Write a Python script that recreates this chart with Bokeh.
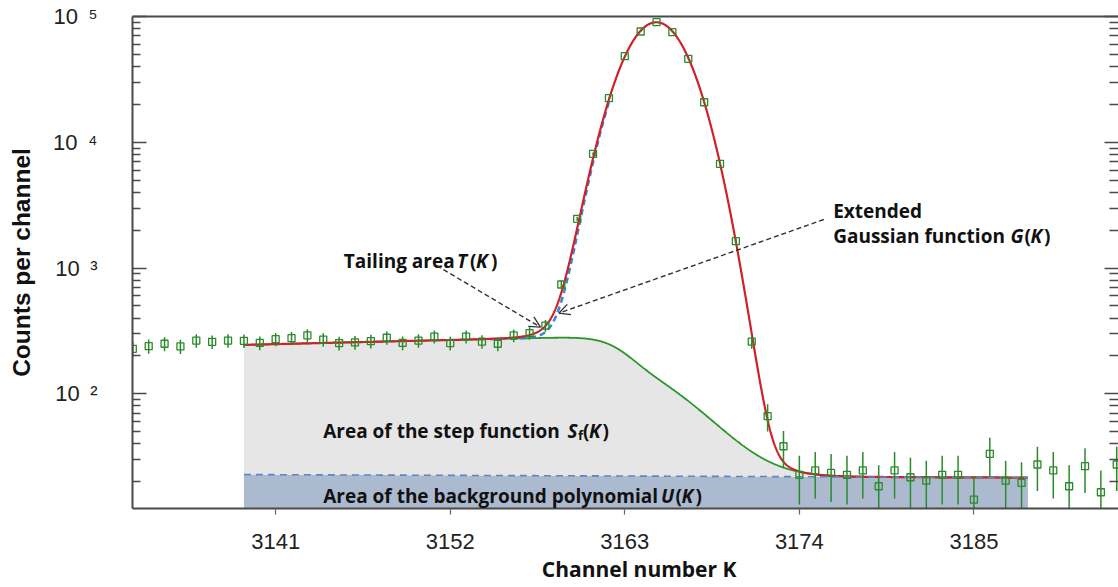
import math
import numpy as np
from bokeh.plotting import figure
from bokeh.models import (Range1d, LogAxis, LinearAxis, FixedTicker, Label, Arrow,
                          OpenHead, CustomJSTickFormatter)
from bokeh.embed import file_html
from bokeh.resources import INLINE

# ---------------- data ----------------
channels = list(range(3132, 3195))
counts = [228, 239, 250, 238, 265, 259, 265, 264, 254, 272,
          277, 292, 270, 253, 256, 262, 279, 254, 265, 285,
          253, 285, 260, 250, 291, 304, 349, 740, 2463, 8095,
          22400, 48350, 76000, 90100, 75000, 46100, 20800, 6740, 1634, 260,
          66.4, 38.3, 22.7, 24.6, 23.5, 22.7, 24.6, 18.4, 24.6, 21.7,
          20.4, 22.7, 22.7, 14.4, 33.3, 20.4, 19.6, 27.4, 24.6, 18.4,
          26.6, 16.5, 27.4]
count_err = [30.2, 30.9, 31.6, 30.9, 32.6, 32.2, 32.6, 32.5, 31.9, 33.0,
             33.3, 34.2, 32.9, 31.8, 32.0, 32.4, 33.4, 31.9, 32.6, 33.8,
             31.8, 33.8, 32.2, 31.6, 34.1, 34.9, 37.4, 54.4, 99, 180,
             299, 440, 551, 600, 548, 429, 288, 164, 81, 32.2,
             16.3, 12.4, 9.5, 9.9, 9.7, 9.5, 9.9, 8.6, 9.9, 9.3,
             9.0, 9.5, 9.5, 7.6, 11.5, 9.0, 8.9, 10.5, 9.9, 8.6,
             10.3, 8.1, 10.5]
x_ticks = [3141, 3152, 3163, 3174, 3185]
y_ticks = [1e2, 1e3, 1e4, 1e5]
y_minor = [m * 10 ** e for e in range(1, 5) for m in range(2, 10)]
x_title = "\u00a0" * 5 + "Channel number K"
y_title = "Counts per channel"

# fitted model parameters
FIT_START, FIT_END = 3139.0, 3188.4
BG0, BG1 = 22.8, -0.025            # background polynomial U(K)
STEP0, STEP1 = 222.0, 1.8          # step plateau
STEP_C, STEP_W1, STEP_W2 = 3164.3, 2.8, 5.6
G_AMP, G_MU, G_SIG = 88300.0, 3165.0, 1.76   # Gaussian G(K)
T_AMP, T_BETA = 40000.0, 1.0       # tailing T(K)
GAUSS_DASH = (3154.5, 3162.0)

# ---------------- layout ----------------
W, H = 1118, 587
FL, FT, FB = 132, 16, 79
FW = W - FL
FH = H - FT - FB
PXCH = 15.87
X0 = 3131.98
X1 = X0 + FW / PXCH
DEC = 125.77
Y1 = 1e5
Y0 = 10 ** (5 - FH / DEC)


def xd(px):
    return X0 + (px - FL) / PXCH


def yd(py):
    return 10 ** (5 - (py - FT) / DEC)


def erfc(a):
    return np.array([math.erfc(v) for v in a])


K = np.linspace(FIT_START, FIT_END, 2500)
bg = BG0 + BG1 * (K - FIT_START)
plateau = STEP0 + STEP1 * (K - FIT_START)
wid = STEP_W1 + (STEP_W2 - STEP_W1) * 0.5 * (1 + np.tanh((K - STEP_C) / 2.0))
step = plateau * 0.5 * erfc((K - STEP_C) / wid)
gauss = G_AMP * np.exp(-(K - G_MU) ** 2 / (2 * G_SIG ** 2))
s2 = math.sqrt(2)
tail = T_AMP * np.exp((K - G_MU) / T_BETA) * 0.5 * erfc((K - G_MU) / (s2 * G_SIG) + G_SIG / (s2 * T_BETA))
total = bg + step + gauss + tail
gm = (K >= GAUSS_DASH[0]) & (K <= GAUSS_DASH[1])

p = figure(width=W, height=H, x_range=Range1d(X0, X1), y_range=Range1d(Y0, Y1),
           y_axis_type="log", output_backend="svg", toolbar_location=None,
           min_border_left=FL, min_border_right=0, min_border_top=FT, min_border_bottom=FB)
p.outline_line_color = None
p.grid.visible = False

AX = "#4a4a4a"
ya = p.yaxis[0]
ya.ticker = FixedTicker(ticks=y_ticks, minor_ticks=y_minor)
ya.formatter = CustomJSTickFormatter(code="""
const s = {2: '\u00b2', 3: '\u00b3', 4: '\u2074', 5: '\u2075'};
const e = Math.round(Math.log10(tick));
return '10\u2009 ' + s[e];
""")
ya.major_tick_in = 14
ya.major_tick_out = 0
ya.minor_tick_in = 8
ya.minor_tick_out = 0
ya.axis_line_color = AX
ya.axis_line_width = 2
ya.major_tick_line_color = AX
ya.major_tick_line_width = 1.6
ya.minor_tick_line_color = AX
ya.minor_tick_line_width = 1.6
ya.major_label_text_font = "Liberation Sans"
ya.major_label_text_font_size = "22px"
ya.major_label_text_color = "#222222"
ya.major_label_standoff = 35
ya.axis_label = y_title
ya.axis_label_text_font = "Liberation Sans"
ya.axis_label_text_font_size = "24.5px"
ya.axis_label_text_font_style = "bold"
ya.axis_label_text_color = "#111111"
ya.axis_label_standoff = 15

xa = p.xaxis[0]
xa.ticker = FixedTicker(ticks=x_ticks)
xa.major_tick_in = 0
xa.major_tick_out = 6
xa.minor_tick_line_color = None
xa.axis_line_color = AX
xa.axis_line_width = 2
xa.major_tick_line_color = "#666666"
xa.major_tick_line_width = 1.2
xa.major_label_text_font = "Liberation Sans"
xa.major_label_text_font_size = "22px"
xa.major_label_text_color = "#222222"
xa.major_label_standoff = 19
xa.axis_label = x_title
xa.axis_label_text_font = "Open Sans"
xa.axis_label_text_font_size = "21px"
xa.axis_label_text_font_style = "bold"
xa.axis_label_text_color = "#111111"
xa.axis_label_standoff = 3

ra = LogAxis(ticker=FixedTicker(ticks=y_ticks, minor_ticks=y_minor),
             formatter=CustomJSTickFormatter(code="return '';"),
             major_label_text_font_size="1px", major_label_standoff=0,
             major_tick_in=14, major_tick_out=0, minor_tick_in=9, minor_tick_out=0,
             axis_line_color=None, major_tick_line_color=AX, minor_tick_line_color=AX,
             major_tick_line_width=1.6, minor_tick_line_width=1.6)
p.add_layout(ra, "right")
ta = LinearAxis(ticker=FixedTicker(ticks=[]), major_label_text_font_size="1px",
                major_label_standoff=0, major_tick_out=0, minor_tick_out=0,
                axis_line_color=AX, axis_line_width=2)
p.add_layout(ta, "above")

# areas
p.varea(x=K, y1=Y0 * 0.5, y2=bg, fill_color="#acbacf")
p.varea(x=K, y1=bg, y2=bg + step, fill_color="#e6e6e6")

# curves
p.line(K, bg + step, line_color="#2a962a", line_width=1.8)
p.line(K[gm], (bg + step + gauss)[gm], line_color="#3a88cc", line_width=2.6, line_dash="6 4")
p.line(K, total, line_color="#d0202a", line_width=2.2)
p.line(K, bg, line_color="#5a88c2", line_width=1.6, line_dash="7 5")

# data points with error bars
lo = [c - e for c, e in zip(counts, count_err)]
hi = [c + e for c, e in zip(counts, count_err)]
p.segment(x0=channels, y0=lo, x1=channels, y1=hi, line_color="#2b8a2b", line_width=1.5)
p.scatter(channels, counts, marker="square", size=7, fill_color=None,
          line_color="#2b8a2b", line_width=1.3)

FONT = "Open Sans"
TXT = "#111111"


def seg(text, px, py, size="19px", style="bold", align="left", font=FONT):
    p.add_layout(Label(x=xd(px), y=yd(py), text=text, text_font=font, text_font_size=size,
                       text_font_style=style, text_color=TXT, text_align=align,
                       text_baseline="alphabetic"))


# annotations
seg("Tailing area", 343.3, 260)
seg("T", 456.5, 260, style="bold italic")
seg("(", 469.5, 260)
seg("K", 475.5, 260, style="bold italic")
seg(")", 490.5, 260)

seg("Extended", 832.7, 210)
seg("Gaussian function", 832.7, 235)
seg("G", 1010, 235, style="bold italic")
seg("(", 1024, 235)
seg("K", 1030, 235, style="bold italic")
seg(")", 1043.5, 235)

seg("Area of the step function", 322.7, 430)
seg("S", 567, 430, style="bold italic")
seg("f", 577.5, 434, size="13px")
seg("(", 582.5, 430)
seg("K", 588.5, 430, style="bold italic")
seg(")", 602, 430)

seg("Area of the background polynomial", 322.7, 495)
seg("U", 660.5, 495, style="bold italic")
seg("(", 675, 495)
seg("K", 681, 495, style="bold italic")
seg(")", 695, 495)

# arrows
p.add_layout(Arrow(end=OpenHead(size=11, line_color="#333333", line_width=1.3),
                   x_start=xd(436), y_start=yd(265), x_end=xd(540), y_end=yd(326.7),
                   line_color="#333333", line_width=1.4, line_dash="5 3"))
p.add_layout(Arrow(end=OpenHead(size=11, line_color="#333333", line_width=1.3),
                   x_start=xd(823.3), y_start=yd(219), x_end=xd(558.3), y_end=yd(312.7),
                   line_color="#333333", line_width=1.4, line_dash="5 3"))

with open("out.html", "w", encoding="utf-8") as f:
    f.write(file_html(p, INLINE))
